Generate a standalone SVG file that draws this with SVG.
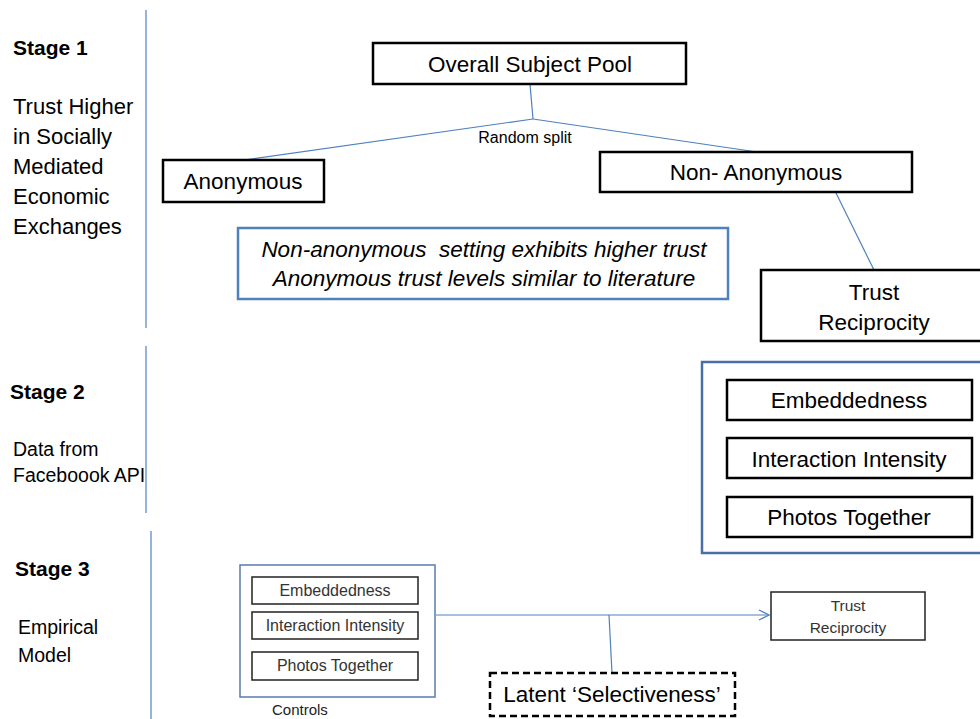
<svg xmlns="http://www.w3.org/2000/svg" width="980" height="719" viewBox="0 0 980 719">
<defs>
<style>
text{font-family:"Liberation Sans",Arial,sans-serif;fill:#000}
.lbl{font-size:22.5px}
.stage{font-size:21px;font-weight:bold}
.side{font-size:22px}
.side2{font-size:19.5px}
.box{fill:#fff;stroke:#000;stroke-width:2.5}
.sbox{fill:#fff;stroke:#222;stroke-width:1.5}
.blue{fill:none;stroke:#4f81bd;stroke-width:1.2}
.small{font-size:16px;fill:#333}
.mid{text-anchor:middle}
</style>
<marker id="arr" markerWidth="12" markerHeight="12" refX="11" refY="6" orient="auto" markerUnits="userSpaceOnUse">
<path d="M1,1 L11,6 L1,11" fill="none" stroke="#4f81bd" stroke-width="1.2"/>
</marker>
</defs>
<rect width="980" height="719" fill="#fff"/>

<g id="dividers">
<line x1="146" y1="10" x2="146" y2="328" class="blue"/>
<line x1="146" y1="346" x2="146" y2="513" class="blue"/>
<line x1="151" y1="531" x2="151" y2="719" class="blue"/>
</g>

<g id="stage-labels">
<text x="13" y="55" class="stage">Stage 1</text>
<text x="13" y="114" class="side">Trust Higher</text>
<text x="13" y="144" class="side">in Socially</text>
<text x="13" y="174" class="side">Mediated</text>
<text x="13" y="204" class="side">Economic</text>
<text x="13" y="234" class="side">Exchanges</text>
<text x="10" y="399" class="stage">Stage 2</text>
<text x="13" y="456" class="side2">Data from</text>
<text x="13" y="482" class="side2">Faceboook API</text>
<text x="15" y="576" class="stage">Stage 3</text>
<text x="18" y="634" class="side2">Empirical</text>
<text x="18" y="662" class="side2">Model</text>
</g>

<g id="connectors">
<line x1="530" y1="84" x2="533" y2="119" class="blue"/>
<line x1="533" y1="119" x2="244" y2="160" class="blue"/>
<line x1="533" y1="119" x2="757" y2="152" class="blue"/>
<line x1="836" y1="193" x2="874" y2="270" class="blue"/>
<line x1="436" y1="615" x2="769" y2="615" class="blue" marker-end="url(#arr)"/>
<line x1="609" y1="615" x2="612" y2="673" class="blue"/>
</g>

<g id="random-split">
<text x="525" y="143" class="mid" style="font-size:16px">Random split</text>
</g>

<g id="overall-pool">
<rect x="373" y="43" width="313" height="41" class="box"/>
<text x="530" y="72" class="lbl mid">Overall Subject Pool</text>
</g>

<g id="anonymous">
<rect x="163" y="160" width="161" height="42" class="box"/>
<text x="243" y="189" class="lbl mid">Anonymous</text>
</g>

<g id="non-anonymous">
<rect x="600" y="152" width="312" height="40" class="box"/>
<text x="756" y="180" class="lbl mid">Non- Anonymous</text>
</g>

<g id="finding">
<rect x="238" y="228" width="490" height="71" fill="#fff" stroke="#4f81bd" stroke-width="2.5"/>
<text x="484" y="257" class="lbl mid" font-style="italic" xml:space="preserve">Non-anonymous  setting exhibits higher trust</text>
<text x="484" y="286" class="lbl mid" font-style="italic">Anonymous trust levels similar to literature</text>
</g>

<g id="trust-reciprocity-1">
<rect x="761" y="270" width="230" height="71" class="box"/>
<text x="874" y="300" class="lbl mid">Trust</text>
<text x="874" y="330" class="lbl mid">Reciprocity</text>
</g>

<g id="facebook-data">
<rect x="702" y="362" width="290" height="191" fill="#fff" stroke="#4a6fa5" stroke-width="2.5"/>
<g id="embeddedness-2">
<rect x="727" y="380" width="245" height="40" class="box"/>
<text x="849" y="408" class="lbl mid">Embeddedness</text>
</g>
<g id="interaction-2">
<rect x="727" y="438" width="245" height="40" class="box"/>
<text x="849" y="467" class="lbl mid">Interaction Intensity</text>
</g>
<g id="photos-2">
<rect x="727" y="497" width="245" height="40" class="box"/>
<text x="849" y="525" class="lbl mid">Photos Together</text>
</g>
</g>

<g id="controls">
<rect x="240" y="565" width="195" height="132" fill="#fff" stroke="#5a7ca8" stroke-width="1.5"/>
<g id="embeddedness-3">
<rect x="252" y="577" width="166" height="27" class="sbox"/>
<text x="335" y="596" class="small mid">Embeddedness</text>
</g>
<g id="interaction-3">
<rect x="252" y="612" width="166" height="27" class="sbox"/>
<text x="335" y="631" class="small mid">Interaction Intensity</text>
</g>
<g id="photos-3">
<rect x="252" y="652" width="166" height="28" class="sbox"/>
<text x="335" y="671" class="small mid">Photos Together</text>
</g>
<text x="272" y="715" style="font-size:15px;fill:#222">Controls</text>
</g>

<g id="trust-reciprocity-2">
<rect x="771" y="592" width="154" height="48" class="sbox"/>
<text x="848" y="611" class="small mid" style="font-size:15.5px">Trust</text>
<text x="848" y="633" class="small mid" style="font-size:15.5px">Reciprocity</text>
</g>

<g id="latent">
<rect x="490" y="673" width="245" height="43" fill="#fff" stroke="#000" stroke-width="2.5" stroke-dasharray="7,4"/>
<text x="612" y="702" class="lbl mid">Latent ‘Selectiveness’</text>
</g>
</svg>
